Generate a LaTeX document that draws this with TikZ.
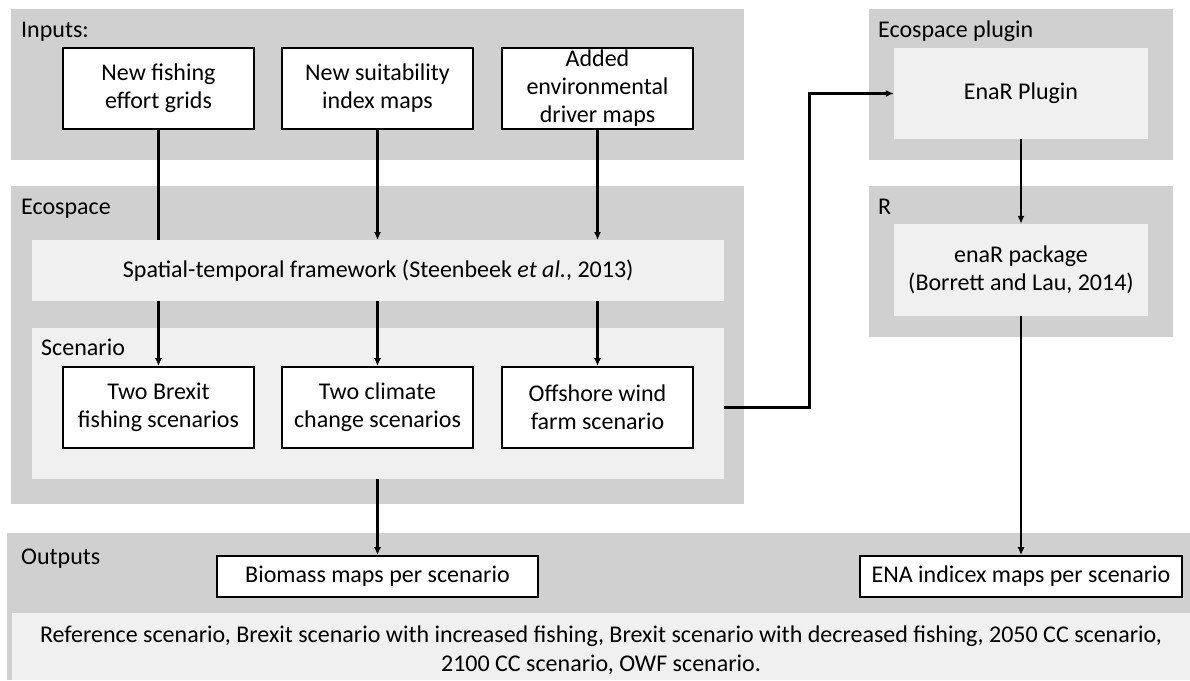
\documentclass[tikz,border=0pt]{standalone}
\usepackage{fontspec}
\setmainfont{Carlito}
\usetikzlibrary{arrows.meta}
\definecolor{panelgray}{RGB}{208,208,208}
\definecolor{innergray}{RGB}{240,240,240}

\begin{document}
\begin{tikzpicture}[x=1pt,y=-1pt,
  every node/.style={font=\fontsize{24}{28}\selectfont, inner sep=0pt},
  panel/.style={fill=panelgray, draw=none, anchor=north west},
  inner/.style={fill=innergray, draw=none, anchor=north west},
  whitebox/.style={draw=black, line width=1.6pt, fill=white, align=center, minimum width=191pt, minimum height=81pt},
  outbox/.style={draw=black, line width=1.6pt, fill=white, minimum height=41pt},
  title/.style={anchor=base west},
  arr/.style={line width=2.2pt, -{Latex[length=8pt,width=7pt]}},
  plain/.style={line width=2.2pt}]
  \useasboundingbox (0,0) rectangle (1190,680);

  % panels
  \node[panel, minimum width=733pt, minimum height=151pt] (inputs) at (11,9) {};
  \node[panel, minimum width=733pt, minimum height=318pt] (ecospace) at (11,186) {};
  \node[panel, minimum width=304pt, minimum height=151pt] (plugpanel) at (869,9) {};
  \node[panel, minimum width=304pt, minimum height=151pt] (rpanel) at (869,186) {};
  \node[panel, minimum width=1183pt, minimum height=147pt] (outputs) at (7,533) {};

  \node[title] (tin) at (21,37) {Inputs:};
  \node[title] (teco) at (21,214) {Ecospace};
  \node[title] (tplug) at (878,37) {Ecospace plugin};
  \node[title] (tr) at (878,214) {R};
  \node[title] (tout) at (21,564) {Outputs};

  % Ecospace inner parts
  \node[inner, minimum width=692pt, minimum height=61pt] (spat) at (32,240) {};
  \node (tspat) at (spat.center) {Spatial-temporal framework (Steenbeek \textit{et al.}, 2013)};
  \node[inner, minimum width=692pt, minimum height=151pt] (scen) at (32,328) {};
  \node[title] (tscen) at (41,355) {Scenario};

  % input boxes
  \node[whitebox] (fish) at (158.5,88.5) {New fishing\\effort grids};
  \node[whitebox] (suit) at (377.5,88.5) {New suitability\\index maps};
  \node[whitebox] (added) at (597.5,88.5) {Added\\environmental\\driver maps};

  % scenario boxes
  \node[whitebox] (brexit) at (158.5,407.5) {Two Brexit\\fishing scenarios};
  \node[whitebox] (climate) at (377.5,407.5) {Two climate\\change scenarios};
  \node[whitebox] (owf) at (597.5,407.5) {Offshore wind\\farm scenario};

  % right column
  \node[inner, anchor=center, minimum width=254pt, minimum height=91pt] (plugin) at (1021,93.5) {EnaR Plugin};
  \node[inner, anchor=center, minimum width=254pt, minimum height=92pt, align=center] (enar) at (1021,270) {enaR package\\(Borrett and Lau, 2014)};

  % outputs
  \node[outbox, minimum width=321pt] (biomass) at (377.5,576.5) {Biomass maps per scenario};
  \node[outbox, minimum width=322pt] (ena) at (1021,576.5) {ENA indicex maps per scenario};
  \node[inner, minimum width=1178pt, minimum height=67pt] (desc) at (12,613) {};
  \node[align=center, font=\fontsize{24}{29}\selectfont] (tdesc) at (601,650) {Reference scenario, Brexit scenario with increased fishing, Brexit scenario with decreased fishing, 2050 CC scenario,\\2100 CC scenario, OWF scenario.};

  % connectors
  \draw[plain] (fish.south) -- (fish.south |- spat.north);
  \draw[arr] (suit.south) -- (suit.south |- spat.north);
  \draw[arr] (added.south) -- (added.south |- spat.north);
  \draw[arr] (fish.south |- spat.south) -- (brexit.north);
  \draw[arr] (suit.south |- spat.south) -- (climate.north);
  \draw[arr] (added.south |- spat.south) -- (owf.north);
  \draw[arr] (scen.south -| biomass.north) -- (biomass.north);
  \draw[arr] (scen.east |- owf.east) -- ++(85,0) |- (plugin.west);
  \draw[arr] (plugin.south) -- (enar.north);
  \draw[arr] (enar.south) -- (ena.north);
\end{tikzpicture}
\end{document}
